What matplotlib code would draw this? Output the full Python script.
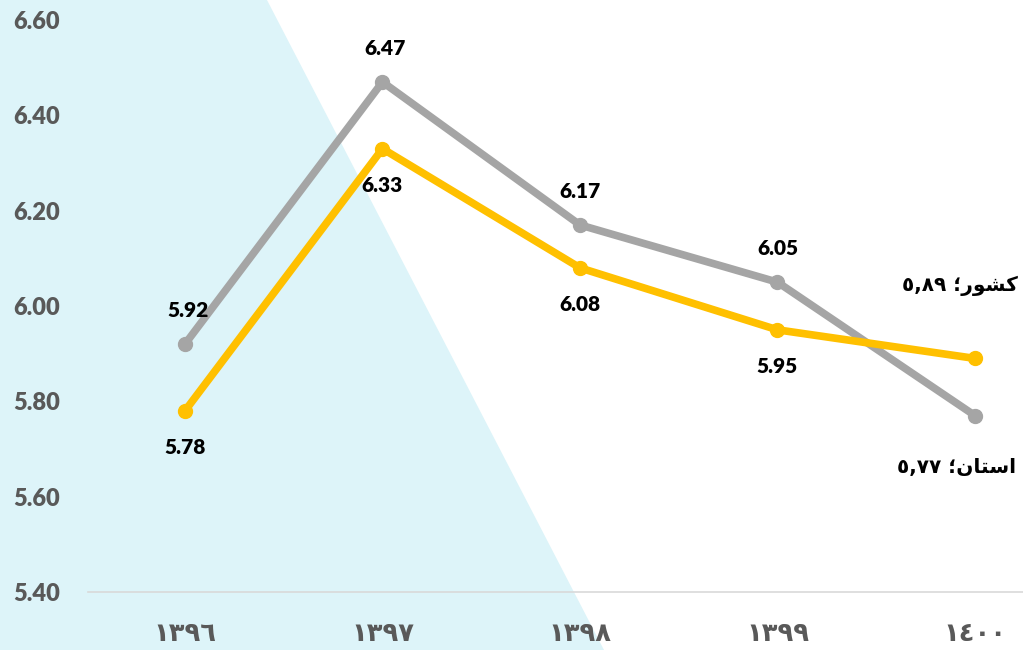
import matplotlib
matplotlib.use("Agg")
import matplotlib.pyplot as plt
from matplotlib.patches import Polygon

years = ["١٣٩٦", "١٣٩٧", "١٣٩٨", "١٣٩٩", "١٤٠٠"]
ostan = [5.92, 6.47, 6.17, 6.05, 5.77]    # خاکستری
keshvar = [5.78, 6.33, 6.08, 5.95, 5.89]  # زرد
yticks = [5.40, 5.60, 5.80, 6.00, 6.20, 6.40, 6.60]

# برچسب‌های آخر (شکل‌دهی دستی حروف فارسی، ترتیب دیداری)
label_keshvar = "٥,٨٩ ؛" + "\uFEAD\uFEEE\uFEB8\uFB90"
label_ostan = "٥,٧٧ ؛" + "\uFEE5\uFE8E\uFE98\uFEB3\uFE8D"

GRAY = "#A5A5A5"
YELLOW = "#FFC000"
TXT = "#595959"

fig = plt.figure(figsize=(10.23, 6.5), dpi=100)
W, H = 1023, 650

# پس‌زمینه فیروزه‌ای کم‌رنگ
bg = Polygon([(0, 1), (267 / W, 1), (604 / W, 0), (0, 0)], closed=True,
             transform=fig.transFigure, facecolor="#DDF4F9", edgecolor="none", zorder=-5)
fig.patches.append(bg)

ax = fig.add_axes([88 / W, 1 - 592 / H, (W - 88) / W, (592 - 20) / H])
ax.set_facecolor("none")
ax.set_zorder(2)

x = list(range(len(years)))
ax.plot(x, ostan, color=GRAY, lw=5.5, marker="o", ms=10, solid_capstyle="round", zorder=3)
ax.plot(x, keshvar, color=YELLOW, lw=5.5, marker="o", ms=10, solid_capstyle="round", zorder=4)

ax.set_xlim(-0.491, 4.243)
ax.set_ylim(5.40, 6.60)
ax.set_yticks(yticks)
ax.set_yticklabels(["%.2f" % v for v in yticks], fontsize=17, fontweight="heavy",
                   color=TXT, family=["Lato", "DejaVu Sans"])
ax.set_xticks(x)
ax.set_xticklabels(years, fontsize=18.5, fontweight="bold", color=TXT,
                   family=["DejaVu Sans"])
ax.tick_params(axis="both", length=0)
ax.tick_params(axis="y", pad=20)
ax.tick_params(axis="x", pad=21)

for s in ["top", "right", "left"]:
    ax.spines[s].set_visible(False)
ax.spines["bottom"].set_color("#D9D9D9")
ax.spines["bottom"].set_linewidth(1.2)

lab = dict(fontsize=15, fontweight="heavy", color="black", ha="center", va="center",
           family=["Lato", "DejaVu Sans"], textcoords="offset points", zorder=5)
for i in range(4):
    ax.annotate("%.2f" % ostan[i], (x[i], ostan[i]), xytext=(2 if i < 2 else 0, 24), **lab)
    ax.annotate("%.2f" % keshvar[i], (x[i], keshvar[i]), xytext=(0, -26.5), **lab)

arab = dict(fontsize=14.5, fontweight="bold", color="black", ha="center", va="center",
            family=["DejaVu Sans"], textcoords="offset points", zorder=5)
ax.annotate(label_keshvar, (x[4], keshvar[4]), xytext=(-11, 52), **arab)
ax.annotate(label_ostan, (x[4], ostan[4]), xytext=(-13, -37), **arab)

fig.savefig("out.png", dpi=100)
